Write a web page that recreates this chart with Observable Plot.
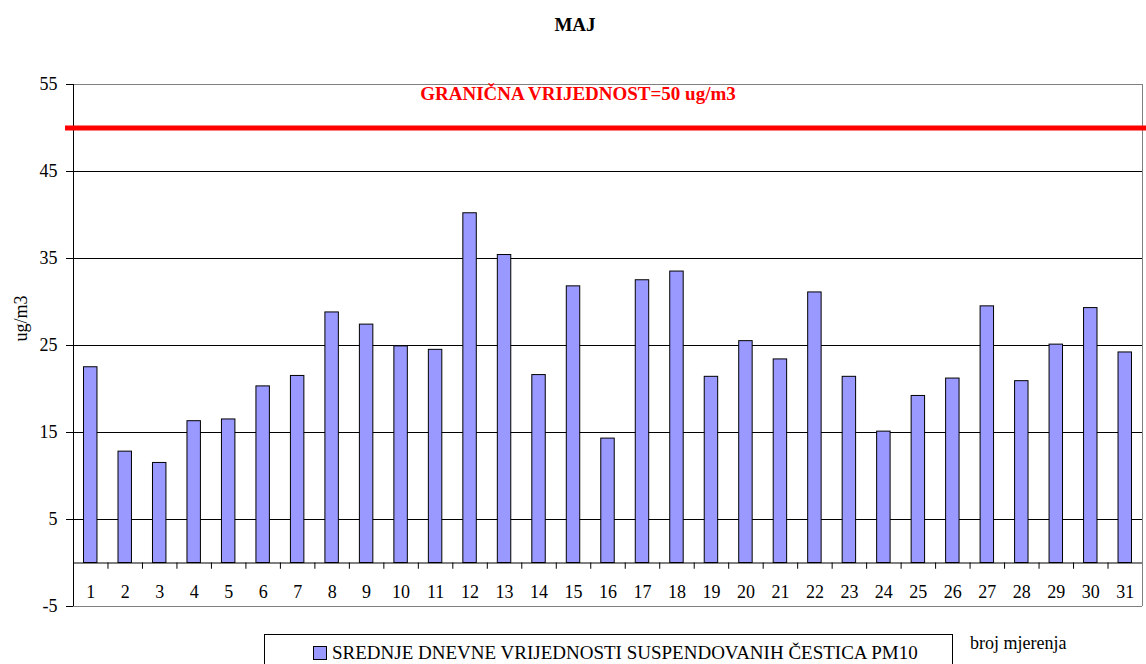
<!DOCTYPE html>
<html>
<head>
<meta charset="utf-8">
<script src="https://cdn.jsdelivr.net/npm/d3@7"></script>
<script src="https://cdn.jsdelivr.net/npm/@observablehq/plot@0.6"></script>
<style>
  html, body { margin: 0; padding: 0; background: #fff; }
  svg { display: block; }
  svg text { font-family: "Liberation Serif", "Times New Roman", serif; }
</style>
</head>
<body>
<div id="chart"></div>
<script>
const days = [1,2,3,4,5,6,7,8,9,10,11,12,13,14,15,16,17,18,19,20,21,22,23,24,25,26,27,28,29,30,31];
const values = [22.5,12.8,11.5,16.3,16.5,20.3,21.5,28.8,27.4,24.9,24.5,40.2,35.4,21.6,31.8,14.3,32.5,33.5,21.4,25.5,23.4,31.1,21.4,15.1,19.2,21.2,29.5,20.9,25.1,29.3,24.2];
const yTicks = [-5,5,15,25,35,45,55];
const gridLines = [5,15,25,35,45];
const limitValue = 50;
const titleText = "MAJ";
const limitLabel = "GRANIČNA VRIJEDNOST=50 ug/m3";
const yLabel = "ug/m3";
const legendLabel = "SREDNJE DNEVNE VRIJEDNOSTI SUSPENDOVANIH ČESTICA PM10";
const xLabel = "broj mjerenja";

const data = days.map((d, i) => ({day: d, value: values[i]}));
const bounds = days.slice(0, -1).map(d => d + 0.5);
const font = '"Liberation Serif", "Times New Roman", serif';
const barColor = "#9999ff";

const svg = Plot.plot({
  width: 1146,
  height: 664,
  marginTop: 84,
  marginBottom: 58,
  marginLeft: 73,
  marginRight: 4,
  x: {domain: [0.5, 31.5], axis: null},
  y: {domain: [-5, 55], axis: null},
  style: {fontFamily: font, fontSize: "18px", background: "#fff", color: "#000"},
  marks: [
    Plot.ruleY(gridLines, {stroke: "#000", strokeWidth: 1}),
    Plot.ruleY([55, -5], {stroke: "#808080", strokeWidth: 1}),
    Plot.ruleX([31.5], {stroke: "#808080", strokeWidth: 1}),
    Plot.rectY(data, {x1: d => d.day - 0.195, x2: d => d.day + 0.195, y1: 0, y2: "value", fill: barColor, stroke: "#000", strokeWidth: 1}),
    Plot.ruleY([0], {stroke: "#000", strokeWidth: 1}),
    Plot.ruleX(bounds, {y1: 0, y2: -0.72, stroke: "#000", strokeWidth: 1}),
    Plot.ruleX([0.5], {stroke: "#000", strokeWidth: 1}),
    Plot.axisY({ticks: yTicks, tickSize: 7, tickPadding: 9, label: null, tickFormat: d => String(d), fontSize: 18}),
    Plot.text(days, {x: d => d, y: -5, dy: -14, text: d => String(d), lineAnchor: "middle", fontSize: 18}),
    Plot.ruleY([limitValue], {stroke: "#ff0000", strokeWidth: 5, insetLeft: -8, insetRight: -4}),
    Plot.text([limitLabel], {frameAnchor: "top", dx: -30, dy: 9, lineAnchor: "middle", fill: "#ff0000", fontWeight: "bold", fontSize: 19}),
    Plot.text([titleText], {frameAnchor: "top", dx: -33, dy: -60, lineAnchor: "middle", fill: "#000", fontWeight: "bold", fontSize: 19}),
    Plot.text([yLabel], {frameAnchor: "left", dx: -52, dy: -4, rotate: -90, lineAnchor: "middle", fontSize: 18})
  ]
});

const s = d3.select(svg);
s.append("rect").attr("x", 264.5).attr("y", 634.5).attr("width", 688).attr("height", 40)
  .attr("fill", "#fff").attr("stroke", "#000").attr("stroke-width", 1);
s.append("rect").attr("x", 313.5).attr("y", 646.5).attr("width", 13).attr("height", 13)
  .attr("fill", barColor).attr("stroke", "#000").attr("stroke-width", 1);
s.append("text").attr("x", 332).attr("y", 659).attr("text-anchor", "start").text(legendLabel)
  .attr("font-size", 19).attr("fill", "#000");
s.append("text").attr("x", 970).attr("y", 649).attr("text-anchor", "start").text(xLabel)
  .attr("font-size", 18).attr("fill", "#000");

document.getElementById("chart").appendChild(svg);
</script>
</body>
</html>
